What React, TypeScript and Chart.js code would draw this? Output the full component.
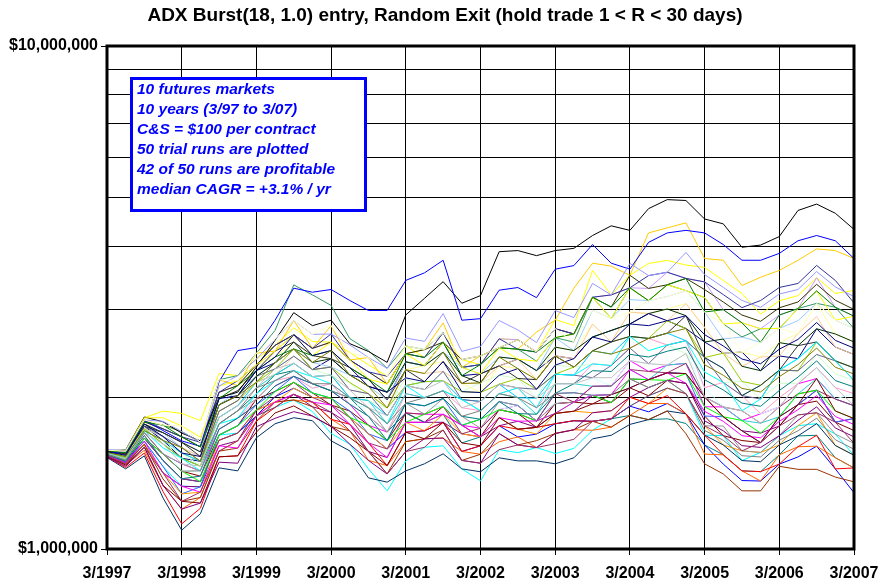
import React, { useEffect, useRef } from "react";
import { Chart, registerables } from "chart.js";

Chart.register(...registerables);

const chartTitle = "ADX Burst(18, 1.0) entry, Random Exit (hold trade 1 < R < 30 days)";
const noteLines = [
  "10 futures markets",
  "10 years (3/97 to 3/07)",
  "C&S = $100 per contract",
  "50 trial runs are plotted",
  "42 of 50 runs are profitable",
  "median CAGR = +3.1% / yr",
];

// quarterly dates (categories)
const quarters = [
  "3/1997", "6/1997", "9/1997", "12/1997",
  "3/1998", "6/1998", "9/1998", "12/1998",
  "3/1999", "6/1999", "9/1999", "12/1999",
  "3/2000", "6/2000", "9/2000", "12/2000",
  "3/2001", "6/2001", "9/2001", "12/2001",
  "3/2002", "6/2002", "9/2002", "12/2002",
  "3/2003", "6/2003", "9/2003", "12/2003",
  "3/2004", "6/2004", "9/2004", "12/2004",
  "3/2005", "6/2005", "9/2005", "12/2005",
  "3/2006", "6/2006", "9/2006", "12/2006",
  "3/2007",
];
const yearTickLabels = ["3/1997", "3/1998", "3/1999", "3/2000", "3/2001", "3/2002", "3/2003", "3/2004", "3/2005", "3/2006", "3/2007"];
// equity in thousands of dollars
const yTickValues = [1000, 2000, 3000, 4000, 5000, 6000, 7000, 8000, 9000, 10000];
const yTickLabels: Record<number, string> = { 1000: "$1,000,000", 10000: "$10,000,000" };

// account equity per run ($000)
const run01 = [1556,1527,1754,1644,1515,1494,1935,2018,2263,2345,2499,2273,2390,2218,2176,1979,2355,2315,2578,2211,2230,2312,2385,2263,2420,2390,2639,2719,2802,2780,2843,2744,2579,2451,2463,2262,2420,2391,2740,2521,2436];
const run02 = [1548,1510,1703,1545,1477,1430,1730,1821,1936,2109,2204,2131,2063,1940,1762,1708,1864,1853,1853,1762,1738,1892,1929,1797,1945,1959,2106,2109,2369,2254,2321,2339,1918,1916,1801,1857,1916,2131,2182,1987,1927];
const run03 = [1568,1563,1823,1880,1860,1800,2232,2212,2385,2541,2753,2585,2578,2458,2324,2205,2534,2403,2692,2380,2326,2618,2606,2463,2860,2781,3580,3200,3501,3696,3748,3669,3629,3419,3221,2930,3115,3189,3461,3222,3266];
const run04 = [1540,1494,1638,1459,1333,1329,1685,1700,1840,1912,1978,1876,1697,1616,1443,1305,1496,1593,1604,1443,1366,1576,1554,1591,1548,1585,1722,1815,1923,2017,2088,2036,1684,1680,1499,1556,1680,1758,1775,1692,1536];
const run05 = [1536,1486,1615,1417,1333,1329,1604,1641,1888,1959,2030,1918,1870,1770,1563,1520,1786,1786,1786,1694,1671,1758,1795,1745,1860,1879,2020,1955,2178,2171,2240,2232,2006,1832,1718,1700,1756,1936,2069,1787,1817];
const run06 = [1544,1502,1660,1545,1428,1396,1685,1758,1986,2057,2144,2043,1933,1881,1762,1642,1864,1786,1920,1762,1671,1892,1859,1745,1945,1959,1943,1955,2091,2017,2164,2134,1838,1680,1643,1628,1756,1936,1968,1787,1720];
const run07 = [1552,1519,1735,1617,1515,1462,1774,1883,2036,2221,2263,2131,2063,1999,1836,1708,1864,1786,1853,1625,1671,1825,1730,1745,1774,1799,1794,1815,1843,1808,1815,1776,1610,1539,1430,1425,1539,1678,1683,1519,1449];
const run08 = [1540,1486,1660,1500,1379,1361,1645,1700,1840,2008,2087,2001,1995,1826,1694,1581,1707,1718,1786,1563,1604,1758,1670,1692,1774,1799,1794,1815,1923,1874,1947,1857,1610,1475,1368,1365,1475,1524,1601,1443,1294];
const run09 = [1556,1536,1735,1674,1552,1494,1827,1928,2146,2221,2340,2202,2216,1999,1973,1841,2113,2151,2160,1982,1965,2126,1999,1994,2226,2216,2477,2441,2646,2622,2686,2595,2402,2286,2018,2116,2268,2391,2580,2366,2291];
const run10 = [1548,1519,1703,1589,1428,1430,1774,1821,2036,2161,2263,2087,2131,1940,1909,1774,1950,1926,1920,1836,1811,1892,1929,1853,1945,2045,2191,2109,2369,2336,2321,2446,2093,1916,1883,1857,1916,2131,2294,1987,2036];
const run11 = [1552,1519,1735,1617,1552,1462,1879,1972,2205,2281,2417,2273,2216,2142,1973,1907,2189,2075,2255,2055,2139,2215,2183,1994,2320,2300,2334,2316,2646,2479,2544,2446,2248,2143,2153,1987,2134,2131,2437,2230,2164];
const run12 = [1568,1554,1772,1733,1671,1595,1990,2064,2324,2408,2580,2424,2390,2294,2106,1979,2272,2315,2359,2133,2047,2312,2284,2171,2520,2480,2800,2580,2958,2938,3000,3076,2756,2451,2463,2408,2572,2682,3079,2676,2580];
const run13 = [1560,1536,1754,1703,1591,1527,1935,2064,2205,2345,2499,2349,2300,2218,2106,1979,2355,2315,2463,2296,2230,2408,2385,2263,2631,2480,2983,2873,3132,3117,3176,3264,2959,2615,2640,2575,2745,2844,3079,2850,2742];
const run14 = [1544,1502,1682,1500,1379,1396,1730,1821,1986,2161,2204,2087,2131,1940,1836,1708,2036,1999,2064,1909,1883,2036,2091,1909,2131,2131,2334,2316,2508,2622,2544,2595,2093,2143,2018,1857,1999,2131,2294,2093,2036];
const run15 = [1564,1545,1772,1703,1630,1560,2049,2113,2324,2475,2667,2505,2578,2376,2250,2128,2445,2403,2692,2296,2326,2618,2606,2463,2741,2676,3166,3200,3306,3296,3550,3451,3396,2990,2817,2741,2918,3006,3461,3024,2903];
const run16 = [1560,1536,1735,1674,1591,1527,1879,1972,2146,2221,2417,2273,2300,2071,2036,1907,2272,2233,2255,2133,2139,2312,2385,2171,2420,2390,2800,2580,2958,2938,2843,3076,2756,2451,2308,2408,2420,2682,2899,2521,2436];
const run17 = [1536,1486,1638,1459,1287,1329,1685,1758,1936,2057,2204,2043,1995,1881,1694,1642,1950,1926,1992,1762,1811,1964,1929,1797,2038,2045,2020,2027,2091,2171,2240,2232,1838,1832,1718,1628,1832,1936,2069,1787,1817];
const run18 = [1556,1527,1719,1644,1552,1494,1827,1928,2091,2221,2340,2202,2216,1999,1973,1774,2036,1999,2064,1982,1883,2036,1999,1853,2131,2131,2106,2109,2274,2171,2321,2339,2006,1916,1801,1779,1832,2034,2182,1987,1927];
const run19 = [1552,1519,1735,1617,1515,1462,1879,1972,2146,2281,2499,2273,2300,2142,2036,1907,2113,2151,2160,2055,2047,2126,2183,2078,2226,2300,2477,2580,2646,2622,2843,2744,2402,2451,2153,2116,2268,2261,2580,2366,2291];
const run20 = [1572,1554,1805,1763,1712,1630,2170,2113,2450,2475,2846,2505,2781,2376,2402,2128,2445,2491,2815,2296,2421,2513,2496,2700,2850,3300,3700,3650,3500,4250,4350,4450,3780,3750,3340,3470,3580,3750,3950,3920,3780];
const run21 = [1532,1477,1615,1417,1287,1297,1645,1700,1888,1959,2087,2001,1995,1826,1694,1581,1786,1718,1853,1694,1671,1825,1730,1692,1860,1879,1866,1883,2003,1946,2088,2036,1758,1610,1567,1556,1610,1758,1866,1606,1536];
const run22 = [1528,1469,1572,1338,1200,1266,1565,1641,1840,1959,1978,1959,1811,1718,1500,1465,1635,1656,1662,1563,1543,1634,1670,1591,1697,1726,1722,1747,1843,1946,1947,1857,1544,1539,1430,1365,1539,1597,1601,1519,1449];
const run23 = [1560,1536,1754,1674,1591,1494,1879,1972,2205,2281,2417,2273,2300,2071,2036,1841,2113,2075,2255,1982,1965,2126,2091,2078,2226,2216,2191,2316,2508,2336,2544,2595,2402,2143,2018,1987,2268,2261,2437,2366,2164];
const run24 = [1548,1510,1703,1545,1477,1430,1774,1883,1986,2161,2263,2131,2063,1999,1909,1708,1950,1853,1992,1836,1738,1964,1929,1797,1945,1959,2020,1955,2178,2094,2164,2036,1758,1756,1567,1556,1680,1847,1866,1692,1622];
const run25 = [1520,1443,1532,1263,1090,1175,1450,1430,1664,1774,1824,1799,1641,1567,1385,1358,1430,1477,1546,1443,1424,1518,1497,1497,1477,1518,1656,1683,1769,1808,1881,1857,1684,1610,1499,1491,1610,1678,1775,1606,1536];
const run26 = [1568,1554,1789,1763,1712,1630,2170,2212,2450,2720,3350,3200,3050,2620,2480,2287,2534,2491,2692,2296,2326,2513,2496,2363,2631,2578,3166,2873,3306,3117,3352,3264,3162,2803,2640,2741,2745,3006,3079,3024,2742];
const run27 = [1564,1545,1772,1703,1630,1560,1935,2018,2205,2345,2580,2349,2390,2218,2106,2050,2355,2315,2463,2211,2139,2408,2385,2263,2520,2480,2639,2719,2802,2938,3000,2910,2579,2615,2308,2262,2572,2537,2740,2676,2580];
const run28 = [1568,1545,1789,1733,1671,1595,2049,2113,2324,2541,2667,2505,2578,2376,2250,2128,2445,2491,2578,2380,2421,2513,2606,2463,2741,2676,3166,3027,3501,3296,3352,3451,3279,3098,2918,2836,3017,3098,3360,3123,2994];
const run29 = [1532,1477,1615,1378,1244,1266,1565,1587,1795,1959,1978,1918,1752,1718,1563,1410,1635,1656,1724,1500,1543,1696,1610,1642,1697,1726,1794,1747,1843,1808,1881,1695,1477,1410,1305,1305,1460,1440,1440,1390,1360];
const run30 = [1540,1494,1660,1500,1379,1361,1645,1700,1888,2008,2144,2001,1933,1826,1625,1581,1864,1853,1920,1694,1738,1892,1859,1797,2038,1959,2106,2109,2274,2254,2240,2339,2006,1916,1883,1779,1916,2034,2069,1987,1927];
const run31 = [1572,1563,1805,1733,1671,1630,2049,2161,2324,2541,2667,2505,2676,2376,2250,2205,2445,2403,2692,2296,2326,2618,2496,2463,2741,2676,3166,3200,3306,3496,3550,3451,3396,3205,3019,3119,3311,3372,3662,3419,3085];
const run32 = [1564,1545,1754,1703,1630,1527,1990,2064,2263,2475,2580,2424,2390,2294,2176,1979,2272,2151,2359,2133,2230,2312,2183,2171,2420,2300,2477,2580,2646,2622,2686,2910,2402,2286,2018,2116,2268,2537,2580,2366,2291];
const run33 = [1560,1575,1830,1790,1700,1640,2000,2050,2300,2600,2950,2780,2850,2560,2470,2350,2920,3150,3400,3080,3190,3900,3920,3830,3920,3960,4200,4390,4300,4750,4950,4930,4530,4430,3980,4020,4180,4710,4850,4650,4320];
const run34 = [1524,1452,1552,1301,1122,1205,1525,1532,1795,1912,2030,1959,1811,1770,1625,1465,1707,1718,1786,1563,1604,1758,1730,1745,1774,1799,1794,1815,2003,1946,2018,1857,1684,1539,1430,1425,1475,1597,1683,1443,1449];
const run35 = [1544,1502,1660,1545,1428,1361,1685,1758,1888,2057,2144,2043,1995,1826,1762,1642,1786,1853,1920,1762,1811,1892,1859,1797,1860,1959,2020,1955,2178,2171,2164,2232,1918,1832,1801,1700,1832,2034,2069,1881,1817];
const run36 = [1550,1560,1800,1720,1640,1600,2150,2480,2515,2850,3300,3240,3280,3119,2980,2980,3420,3540,3750,2850,2870,3270,3310,3160,3600,3660,4030,3700,3600,4070,4250,4300,4250,4030,3750,3750,3870,4100,4200,4100,3780];
const run37 = [1572,1572,1823,1824,1756,1667,2108,2161,2324,2475,2667,2424,2578,2376,2176,2128,2445,2315,2578,2296,2230,2513,2385,2363,2631,2676,3166,2873,3306,3117,3352,3264,3162,2803,2817,2741,2745,3006,3259,2850,2903];
const run38 = [1536,1486,1638,1417,1333,1297,1604,1587,1840,1959,2030,1959,1933,1770,1625,1520,1786,1786,1853,1762,1671,1825,1795,1797,1860,1959,2020,2027,2274,2171,2240,2134,1878,1794,1680,1664,1794,1892,2018,1834,1768];
const run39 = [1552,1510,1719,1589,1515,1430,1774,1821,2036,2161,2263,2202,2131,1999,1909,1774,2113,1999,2064,1982,1883,2036,2091,1909,2226,2216,2334,2316,2646,2479,2544,2595,2248,2143,1883,1987,2268,2391,2580,2366,2164];
const run40 = [1528,1469,1594,1338,1244,1234,1525,1532,1707,1864,1925,1838,1752,1665,1563,1465,1707,1656,1786,1625,1604,1825,1730,1745,1860,1879,1943,2027,2091,2171,2240,2232,2006,1832,1718,1628,1832,1936,2182,1881,1817];
const run41 = [1568,1554,1789,1763,1671,1595,1990,2113,2263,2408,2499,2424,2480,2294,2176,2050,2445,2403,2578,2211,2326,2513,2496,2463,2631,2676,3166,3027,3306,3117,3352,3451,2959,2990,2817,2575,2918,3006,3259,3024,2903];
const run42 = [1560,1536,1772,1674,1552,1527,1990,2018,2263,2408,2667,2424,2480,2294,2106,2050,2189,2151,2359,2055,2047,2215,2284,2078,2320,2390,2639,2580,2802,2938,2843,2910,2668,2533,2386,2335,2496,2610,2820,2599,2508];
const run43 = [1556,1527,1719,1644,1591,1494,1935,2018,2146,2345,2499,2349,2480,2218,2106,1907,2272,2233,2463,2133,2139,2408,2284,2171,2420,2300,2477,2441,2508,2622,2686,2744,2325,2215,2086,2052,2201,2326,2509,2298,2228];
const run44 = [1524,1460,1594,1338,1200,1234,1488,1481,1750,1819,1875,1838,1752,1616,1500,1410,1562,1656,1662,1500,1481,1696,1610,1591,1697,1726,1866,1883,2003,2094,2164,2134,1798,1718,1605,1592,1680,1802,1917,1740,1671];
const run45 = [1540,1494,1682,1500,1379,1396,1730,1821,1936,2109,2204,2131,2063,1940,1836,1642,1950,1926,1992,1836,1811,1964,1859,1853,2038,2131,2262,2254,2438,2408,2473,2520,2170,2071,1950,1922,2066,2196,2366,2162,2100];
const run46 = [1548,1510,1703,1617,1477,1462,1827,1928,2091,2281,2340,2202,2216,2071,1909,1841,2113,2075,2160,1909,1965,2126,2091,1994,2131,2131,2191,2191,2369,2336,2321,2446,2006,1916,1883,1779,1916,2131,2294,2093,1927];
const run47 = [1544,1502,1703,1545,1428,1430,1774,1883,2091,2161,2263,2131,2131,1999,1909,1774,1950,1999,2064,1836,1883,2036,1999,1909,2038,2045,2020,2027,2178,2094,2164,2036,1721,1645,1533,1524,1645,1718,1820,1649,1579];
const run48 = [1576,1572,1805,1794,1712,1630,2108,2212,2385,2612,2846,2671,2676,2546,2402,2287,2627,2587,2938,2471,2527,2846,2726,2573,2979,2885,3373,3200,3696,3496,3550,3886,3512,3312,3120,3024,3213,3280,3561,3320,3175];
const run49 = [1532,1477,1594,1417,1244,1297,1565,1641,1840,1912,2030,1959,1870,1718,1563,1410,1562,1593,1724,1500,1481,1576,1610,1591,1619,1652,1794,1815,1923,2017,2088,2036,1758,1680,1567,1628,1756,1847,1866,1787,1622];
const run50 = [1572,1563,1805,1763,1756,1630,2170,2161,2450,2612,2846,2671,2781,2458,2402,2205,2534,2491,2692,2380,2421,2513,2606,2463,2741,2578,2983,2873,2958,3117,3176,3264,2959,2803,2463,2575,2745,2682,3079,2850,2742];

const runs = [
  run01, run02, run03, run04, run05, run06, run07, run08, run09, run10,
  run11, run12, run13, run14, run15, run16, run17, run18, run19, run20,
  run21, run22, run23, run24, run25, run26, run27, run28, run29, run30,
  run31, run32, run33, run34, run35, run36, run37, run38, run39, run40,
  run41, run42, run43, run44, run45, run46, run47, run48, run49, run50,
];

const runColors = [
  "#000080", "#FF00FF", "#FFFF00", "#00FFFF", "#800080", "#800000", "#008080", "#0000FF", "#00CCFF", "#CCFFFF",
  "#CCFFCC", "#FFFF99", "#99CCFF", "#FF99CC", "#CC99FF", "#FFCC99", "#3366FF", "#33CCCC", "#99CC00", "#FFCC00",
  "#FF9900", "#FF6600", "#666699", "#969696", "#003366", "#339966", "#003300", "#333300", "#993300", "#993366",
  "#333399", "#333333", "#000000", "#FF0000", "#00FF00", "#0000FF", "#FFFF00", "#FF00FF", "#00FFFF", "#800000",
  "#008000", "#000080", "#808000", "#800080", "#008080", "#C0C0C0", "#808080", "#9999FF", "#993366", "#FFFFCC",
];

const FONT = '"Liberation Sans", Arial, sans-serif';

const framePlugin = {
  id: "frameAndNotes",
  afterDatasetsDraw(chart: any) {
    const { ctx, chartArea } = chart;
    const { left, top, right, bottom } = chartArea;
    ctx.save();
    ctx.strokeStyle = "#000000";
    ctx.lineWidth = 3;
    ctx.strokeRect(left, top, right - left, bottom - top);

    // annotation box
    const bx = 131.5, by = 78.5, bw = 234, bh = 132;
    ctx.fillStyle = "#FFFFFF";
    ctx.fillRect(bx, by, bw, bh);
    ctx.strokeStyle = "#0000FF";
    ctx.lineWidth = 3;
    ctx.strokeRect(bx, by, bw, bh);
    ctx.fillStyle = "#0000FF";
    ctx.font = `italic bold 15.5px ${FONT}`;
    ctx.textAlign = "left";
    ctx.textBaseline = "middle";
    noteLines.forEach((line, i) => {
      ctx.fillText(line, 137, 90 + i * 20);
    });

    // title
    ctx.fillStyle = "#000000";
    ctx.font = `bold 19px ${FONT}`;
    ctx.textAlign = "center";
    ctx.textBaseline = "middle";
    ctx.fillText(chartTitle, 445, 16);
    ctx.restore();
  },
};

export default function App() {
  const canvasRef = useRef<HTMLCanvasElement | null>(null);

  useEffect(() => {
    const canvas = canvasRef.current;
    if (!canvas) return;
    const n = runs.length;
    const chart = new Chart(canvas, {
      type: "line",
      data: {
        labels: quarters,
        datasets: runs.map((r, i) => ({
          label: `Run ${i + 1}`,
          data: r,
          borderColor: runColors[i],
          backgroundColor: runColors[i],
          borderWidth: 1,
          pointRadius: 0,
          tension: 0,
          fill: false,
          order: n - i,
        })),
      },
      options: {
        responsive: false,
        animation: false,
        devicePixelRatio: 1,
        layout: { padding: { top: 46, right: 28, left: 0, bottom: 0 } },
        plugins: {
          legend: { display: false },
          tooltip: { enabled: false },
          title: { display: false },
        },
        scales: {
          x: {
            type: "category",
            offset: false,
            border: { display: false },
            grid: {
              color: (c: any) => (c.index % 4 === 0 ? "#000000" : "rgba(0,0,0,0)"),
              tickColor: (c: any) => (c.index % 4 === 0 ? "#000000" : "rgba(0,0,0,0)"),
              lineWidth: 1,
              tickLength: 6,
            },
            ticks: {
              autoSkip: false,
              maxRotation: 0,
              minRotation: 0,
              padding: 9,
              color: "#000000",
              font: { family: FONT, size: 16, weight: "bold" },
              callback: (_v: any, idx: number) => (yearTickLabels.includes(quarters[idx]) ? quarters[idx] : ""),
            },
            afterFit: (scale: any) => {
              scale.height = 38;
              scale.paddingLeft = 0;
              scale.paddingRight = 0;
            },
          },
          y: {
            type: "logarithmic",
            min: 1000,
            max: 10000,
            border: { display: false },
            afterBuildTicks: (scale: any) => {
              scale.ticks = yTickValues.map((v) => ({ value: v }));
            },
            grid: {
              color: "#000000",
              lineWidth: 1,
              tickLength: 6,
              tickColor: (c: any) =>
                c.tick && yTickLabels[c.tick.value] ? "#000000" : "rgba(0,0,0,0)",
            },
            ticks: {
              autoSkip: false,
              padding: 3,
              color: "#000000",
              font: { family: FONT, size: 16, weight: "bold" },
              callback: (v: any) => yTickLabels[Number(v)] || "",
            },
            afterFit: (scale: any) => {
              scale.width = 107;
              scale.paddingTop = 0;
              scale.paddingBottom = 0;
            },
          },
        },
      },
      plugins: [framePlugin],
    });
    return () => chart.destroy();
  }, []);

  return (
    <div style={{ position: "absolute", left: 0, top: 0, width: 882, height: 587, background: "#FFFFFF" }}>
      <canvas ref={canvasRef} width={882} height={587} style={{ display: "block", width: 882, height: 587 }} />
    </div>
  );
}
